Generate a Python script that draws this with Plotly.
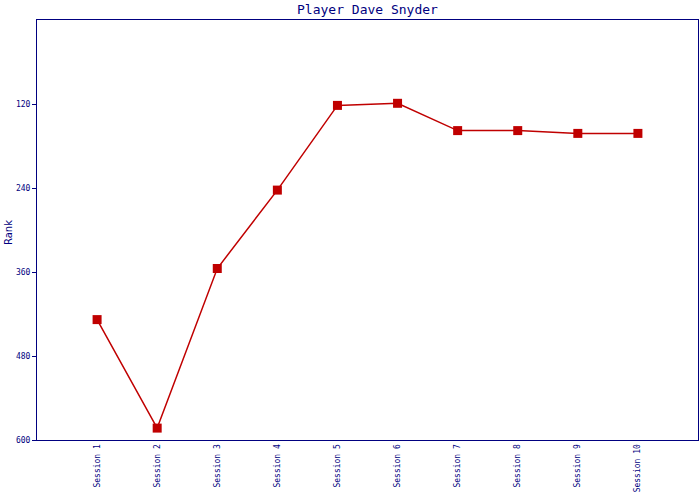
import plotly.graph_objects as go

sessions = ["Session 1", "Session 2", "Session 3", "Session 4", "Session 5",
            "Session 6", "Session 7", "Session 8", "Session 9", "Session 10"]
ranks = [428, 583, 355, 243, 122, 119, 158, 158, 162, 162]
y_ticks = [120, 240, 360, 480, 600]

navy = "#000080"
red = "#C00000"
mono = "DejaVu Sans Mono"

fig = go.Figure()
fig.add_trace(go.Scatter(
    x=sessions, y=ranks, mode="lines+markers",
    line=dict(color=red, width=1.5),
    marker=dict(symbol="square", size=9, color=red),
    showlegend=False,
))

fig.update_layout(
    width=700, height=500,
    margin=dict(l=37, r=2, t=20, b=60, autoexpand=False),
    paper_bgcolor="white", plot_bgcolor="white",
    title=dict(text="Player Dave Snyder", x=0.5, xref="paper", xanchor="center",
               y=1 - 9 / 500, yref="container", yanchor="middle",
               font=dict(family=mono, size=13, color=navy)),
)
fig.update_xaxes(
    type="category", range=[-1, 10],
    showline=True, linecolor=navy, linewidth=1, mirror=True,
    showgrid=False, zeroline=False, ticks="", automargin=False,
    tickangle=-90, tickfont=dict(family=mono, size=8, color=navy),
)
fig.update_yaxes(
    range=[600, 0], tickvals=y_ticks, ticktext=[str(v) for v in y_ticks],
    showline=True, linecolor=navy, linewidth=1, mirror=True, automargin=False,
    showgrid=False, zeroline=False, ticks="outside", ticklen=4, tickcolor=navy,
    tickfont=dict(family=mono, size=8, color=navy),
)
fig.add_annotation(
    text="Rank", textangle=-90, showarrow=False,
    xref="paper", x=(8 - 37) / 661, xanchor="center",
    yref="paper", y=(440 - 233) / 420, yanchor="middle",
    font=dict(family="DejaVu Sans", size=10, color=navy),
)

fig.write_html("out.html", config={"displayModeBar": False},
               post_script="document.body.style.margin='0';document.body.style.overflow='hidden';")
